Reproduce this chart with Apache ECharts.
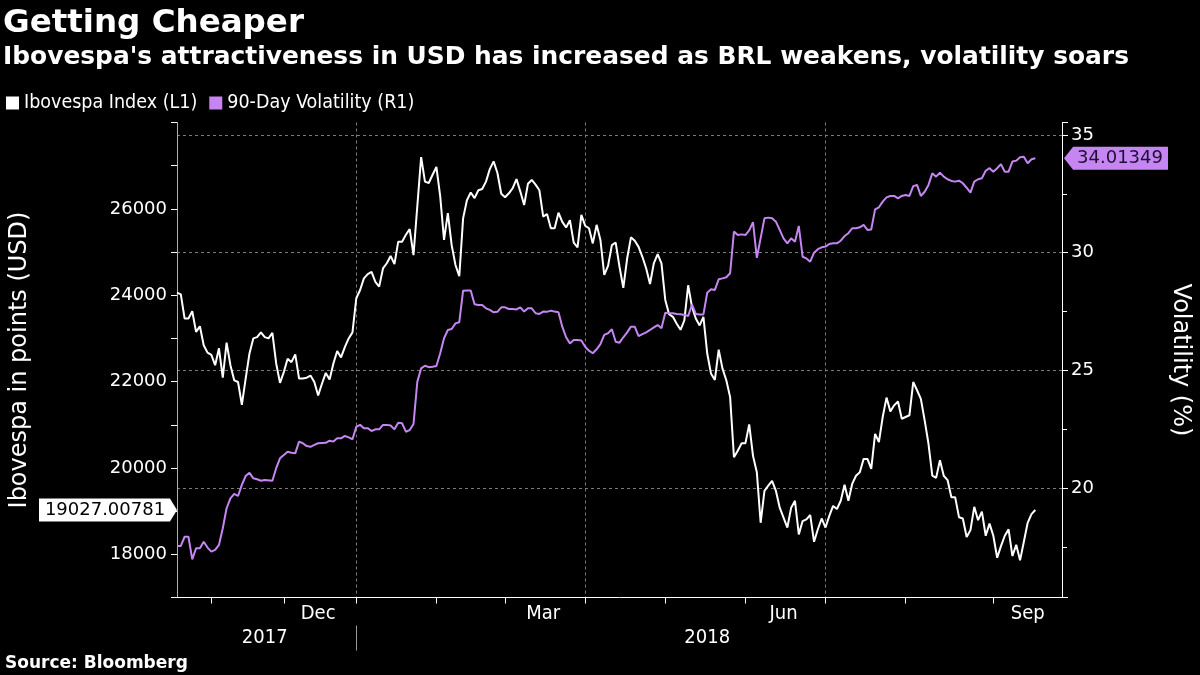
<!DOCTYPE html>
<html>
<head>
<meta charset="utf-8">
<script src="https://cdn.jsdelivr.net/npm/echarts@6/dist/echarts.min.js"></script>
<style>
html,body{margin:0;padding:0;background:#000;}
#chart{width:1200px;height:675px;}
</style>
</head>
<body>
<div id="chart"></div>
<script>
// ---- Calendar (B3 trading days) ----
const startDate = '2017-10-19';
const endDate = '2018-09-28';
const holidays = ['2017-11-02','2017-11-15','2017-11-20','2017-12-25','2017-12-29',
  '2018-01-01','2018-01-25','2018-02-12','2018-02-13','2018-03-30','2018-05-01',
  '2018-05-31','2018-07-09','2018-09-07'];
const monthLabels = {'2017-12':'Dec','2018-03':'Mar','2018-06':'Jun','2018-09':'Sep'};
const gridMonths = ['2018-01','2018-04','2018-07'];
const yearLabels = ['2017','2018'];

// ---- Series values, one per trading day (null = not read) ----
const iboVal = [
24060,24020,23460,23460,23630,23150,23280,22840,22670,22620,
22380,22770,22090,22900,22380,22030,21990,21460,22070,22650,
23000,23030,23140,23030,23000,23130,22420,21970,22220,22530,
22450,22630,22070,22070,22090,22140,21990,21680,21950,22200,
22050,22420,22710,22560,22800,23000,23140,23930,24120,24390,
24490,24540,24310,24200,24620,24740,24910,24720,25240,25240,
25400,25530,24930,null,27200,26630,26600,26790,26970,26290,
25280,25900,25160,24700,24440,25780,26200,26380,26250,26430,
26460,26630,26920,27100,26830,26350,26270,26360,26480,26690,
26400,26090,26580,26670,26560,26430,25820,25880,25550,25550,
25910,25700,25570,25740,25220,25110,25860,25610,25550,25200,
25630,25280,24470,24680,25160,25220,24660,24170,24850,25340,
25260,25120,24890,24620,24260,24740,24950,24740,23890,23560,
23500,23340,23200,23420,24230,23730,23460,23300,23500,22650,
22180,22040,22740,22300,22030,21640,20250,20400,20570,20570,
21010,20280,19900,18730,19470,19590,19700,19470,19080,null,
18620,19080,19240,18460,18770,18810,18910,18290,18580,18830,
18620,18890,19120,19050,19240,19610,19240,19630,19820,19900,
20210,20210,19980,20790,20600,21180,21630,21310,21450,21540,
21140,21180,21220,21990,21800,21600,21100,20560,19820,19770,
20180,19820,19720,19320,19320,18860,18830,18400,18560,19100,
18790,18990,18430,18710,18430,17920,18190,18430,18580,17960,
18220,17860,18290,18730,18930,19027.00781
];
const volVal = [
17.55,17.55,17.94,17.94,16.98,17.45,17.45,17.73,17.48,17.31,
17.38,17.59,18.30,19.15,19.57,19.76,19.67,20.14,20.52,20.66,
20.42,20.38,20.32,20.35,null,20.32,20.85,21.27,21.41,21.55,
21.51,21.48,21.98,21.91,21.79,21.76,21.84,21.91,null,21.93,
22.02,21.98,22.12,22.12,22.22,22.16,22.08,22.61,22.69,22.55,
22.55,22.43,22.50,22.50,22.69,22.69,22.66,22.50,22.78,22.76,
22.40,22.47,22.73,24.52,25.09,25.20,25.14,25.16,25.19,25.73,
26.37,26.72,26.76,27.00,27.05,28.39,28.40,28.40,27.81,27.78,
27.78,27.64,27.57,27.47,27.49,27.68,27.68,27.61,27.61,27.59,
27.68,27.50,27.64,27.64,27.43,27.40,27.50,27.49,27.54,27.50,
27.47,26.86,26.41,26.15,26.29,26.29,26.27,26.01,25.84,25.73,
25.90,26.12,26.51,26.58,26.75,26.22,26.18,26.41,26.62,26.86,
26.86,26.46,26.54,26.62,26.72,26.83,26.93,26.79,27.45,27.43,
27.43,27.40,27.39,27.36,27.31,27.80,27.40,27.38,27.38,28.30,
28.45,28.42,28.87,28.91,28.96,29.13,30.90,30.75,30.78,30.75,
30.95,31.30,29.78,null,31.46,31.49,31.46,31.32,30.97,30.61,
30.40,30.61,30.47,31.14,29.83,29.76,29.62,30.00,30.15,30.23,
30.26,30.37,30.40,30.40,30.51,30.71,30.83,31.04,31.04,31.08,
31.18,30.97,30.99,31.84,31.93,32.17,32.35,32.41,32.41,32.31,
32.41,32.45,32.41,32.83,32.88,32.41,32.59,32.88,33.37,33.23,
33.40,33.23,33.12,33.05,33.02,33.06,32.95,32.76,32.55,33.02,
33.12,33.16,33.48,33.59,33.44,33.59,33.76,33.44,33.44,33.87,
33.91,34.05,34.08,33.80,33.97,34.01349
];

// ---- Axis ranges ----
const leftMin = 17000, leftMax = 28000, leftStep = 1000;
const rightMin = 15.36, rightMax = 35.53;

// ---- Build categories ----
function tradingDays(s, e, hol) {
  const hs = new Set(hol), out = [];
  let t = Date.parse(s + 'T00:00:00Z');
  const end = Date.parse(e + 'T00:00:00Z');
  while (t <= end) {
    const d = new Date(t), w = d.getUTCDay(), iso = d.toISOString().slice(0, 10);
    if (w !== 0 && w !== 6 && !hs.has(iso)) out.push(iso);
    t += 86400000;
  }
  return out;
}
const cats = tradingDays(startDate, endDate, holidays);
const monthRange = {}, yearRange = {};
cats.forEach((c, i) => {
  const m = c.slice(0, 7), y = c.slice(0, 4);
  if (!monthRange[m]) monthRange[m] = [i, i]; else monthRange[m][1] = i;
  if (!yearRange[y]) yearRange[y] = [i, i]; else yearRange[y][1] = i;
});
const monthStart = new Set(), gridIdx = new Set(), labelAt = {}, yearAt = {};
Object.keys(monthRange).forEach(m => {
  const [a, b] = monthRange[m];
  if (a > 0) monthStart.add(a);
  if (gridMonths.includes(m)) gridIdx.add(a);
  if (monthLabels[m]) labelAt[Math.floor((a + b) / 2)] = monthLabels[m];
});
yearLabels.forEach(y => { const [a, b] = yearRange[y]; yearAt[Math.floor((a + b) / 2)] = y; });
const yearBreak = yearRange['2018'][0];

const lastIbo = iboVal[iboVal.length - 1];
const lastVol = volVal[volVal.length - 1];

const WHITE = '#ffffff', PURPLE = '#c586f2', GRIDC = '#7a7a7a';
const F = "'DejaVu Sans', sans-serif";
const FC = "'DejaVu Sans Condensed', 'DejaVu Sans', sans-serif";
const FB = "'DejaVu Sans', sans-serif";

const chart = echarts.init(document.getElementById('chart'));
chart.setOption({
  backgroundColor: '#000',
  animation: false,
  title: [
    {text: 'Getting Cheaper', left: 3, top: 7, padding: 0,
     textStyle: {color: WHITE, fontFamily: FB, fontWeight: 'bold', fontSize: 32.5}},
    {text: "Ibovespa's attractiveness in USD has increased as BRL weakens, volatility soars", left: 3, top: 45, padding: 0,
     textStyle: {color: WHITE, fontFamily: FB, fontWeight: 'bold', fontSize: 24.9}},
    {text: 'Source: Bloomberg', left: 5, top: 655, padding: 0,
     textStyle: {color: WHITE, fontFamily: FB, fontWeight: 'bold', fontSize: 17}}
  ],
  legend: {
    left: 6, top: 93, padding: 0, icon: 'rect', itemWidth: 13, itemHeight: 13, itemGap: 12,
    textStyle: {color: WHITE, fontFamily: FC, fontSize: 19.5},
    data: ['Ibovespa Index (L1)', '90-Day Volatility (R1)']
  },
  grid: {left: 173, right: 136, top: 122.5, bottom: 77.5},
  xAxis: [
    {
      type: 'category', data: cats, boundaryGap: false, position: 'bottom',
      axisLine: {lineStyle: {color: WHITE, width: 1}},
      axisTick: {show: true, interval: i => monthStart.has(i), length: 6, lineStyle: {color: WHITE}},
      axisLabel: {interval: i => labelAt[i] !== undefined, formatter: (v, i) => labelAt[i] || '',
        color: WHITE, fontFamily: FC, fontSize: 20, margin: 6},
      splitLine: {show: true, interval: i => gridIdx.has(i), lineStyle: {color: GRIDC, width: 1, type: [3, 3]}}
    },
    {
      type: 'category', data: cats, boundaryGap: false, position: 'bottom', offset: 28,
      axisLine: {show: false},
      axisTick: {show: true, interval: i => i === yearBreak, length: 25, lineStyle: {color: '#9a9a9a'}},
      axisLabel: {interval: i => yearAt[i] !== undefined, formatter: (v, i) => yearAt[i] || '',
        color: WHITE, fontFamily: FC, fontSize: 20, margin: 2},
      splitLine: {show: false}
    }
  ],
  yAxis: [
    {
      type: 'value', min: leftMin, max: leftMax, interval: leftStep, position: 'left',
      axisLine: {show: true, lineStyle: {color: '#b0b0b0'}},
      axisTick: {show: true, length: 6, lineStyle: {color: WHITE}},
      axisLabel: {formatter: v => (v % 2000 === 0 && v < leftMax) ? String(v) : '',
        color: WHITE, fontFamily: F, fontSize: 18, margin: 10},
      splitLine: {show: false},
      name: 'Ibovespa in points (USD)', nameLocation: 'middle', nameGap: 145,
      nameTextStyle: {color: WHITE, fontFamily: F, fontSize: 24}
    },
    {
      type: 'value', min: rightMin, max: rightMax, splitNumber: 4, position: 'right',
      axisLine: {show: true, lineStyle: {color: WHITE}},
      axisTick: {show: true, length: 6, lineStyle: {color: WHITE}},
      minorTick: {show: true, splitNumber: 2, length: 5, lineStyle: {color: WHITE}},
      minorSplitLine: {show: false},
      axisLabel: {showMinLabel: false, showMaxLabel: false,
        formatter: v => (Math.abs(v % 5) < 1e-6) ? String(v) : '',
        color: WHITE, fontFamily: F, fontSize: 18, margin: 9},
      splitLine: {show: true, showMinLine: false, showMaxLine: false,
        lineStyle: {color: GRIDC, width: 1, type: [3, 3]}},
      name: 'Volatility (%)', nameLocation: 'middle', nameGap: 106, nameRotate: -90,
      nameTextStyle: {color: WHITE, fontFamily: F, fontSize: 24}
    }
  ],
  series: [
    {
      name: 'Ibovespa Index (L1)', type: 'line', xAxisIndex: 0, yAxisIndex: 0,
      data: iboVal, connectNulls: true, showSymbol: false, symbol: 'none',
      color: WHITE, lineStyle: {color: WHITE, width: 2}, z: 3,
      markPoint: {
        silent: true, animation: false,
        symbol: 'path://M0,0 L130,0 L137,11 L130,22 L0,22 Z', symbolSize: [138, 23], symbolOffset: [-69, 0],
        itemStyle: {color: WHITE},
        label: {show: true, position: 'inside', offset: [-3, 0], formatter: lastIbo.toFixed(5),
          color: '#000', fontFamily: F, fontSize: 18},
        data: [{coord: [cats[0], lastIbo]}]
      }
    },
    {
      name: '90-Day Volatility (R1)', type: 'line', xAxisIndex: 0, yAxisIndex: 1,
      data: volVal, connectNulls: true, showSymbol: false, symbol: 'none',
      color: PURPLE, lineStyle: {color: PURPLE, width: 2}, z: 4,
      markPoint: {
        silent: true, animation: false,
        symbol: 'path://M0,11.5 L9,0 L103,0 L103,23 L9,23 Z', symbolSize: [104, 23], symbolOffset: [54, 0],
        itemStyle: {color: PURPLE},
        label: {show: true, position: 'inside', offset: [4, 0], formatter: lastVol.toFixed(5),
          color: '#1e0f33', fontFamily: F, fontSize: 18},
        data: [{coord: [cats[cats.length - 1], lastVol]}]
      }
    }
  ]
});
</script>
</body>
</html>
